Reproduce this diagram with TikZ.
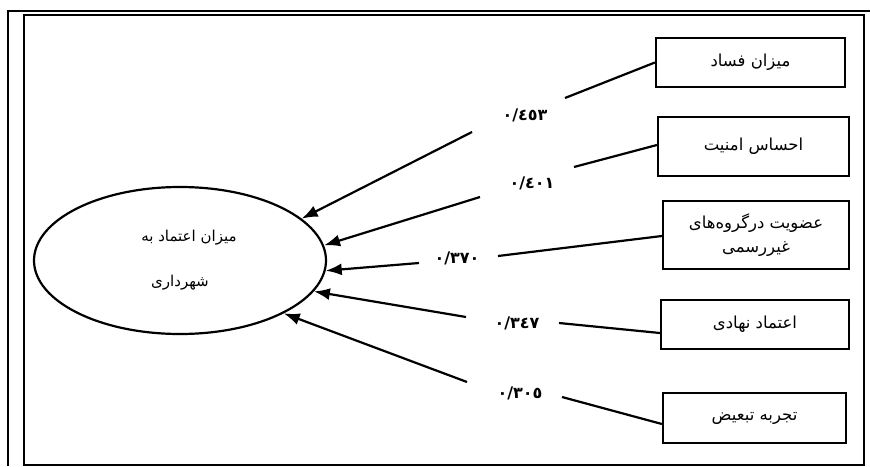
\documentclass[tikz,border=0pt]{standalone}
\usepackage{fontspec}
\TeXXeTstate=1
\newfontfamily\arabicfont[Script=Arabic]{DejaVu Sans}
\usetikzlibrary{arrows.meta,shapes.geometric}
\tikzset{
  factorbox/.style={draw,line width=2.2pt,inner sep=0pt,font=\arabicfont\fontsize{16.5}{24}\selectfont,align=center},
  outcome/.style={draw,ellipse,line width=2.2pt,inner sep=0pt,minimum width=292pt,minimum height=147pt,font=\arabicfont\fontsize{15}{45}\selectfont,align=center},
  coef/.style={font=\arabicfont\bfseries\fontsize{16}{18}\selectfont,inner sep=0pt},
  link/.style={line width=2.2pt},
  arrowlink/.style={line width=2.2pt,-{Latex[length=16pt,width=12pt]}},
  frameline/.style={line width=2.4pt}
}
\begin{document}
\begin{tikzpicture}[x=1pt,y=-1pt]
\useasboundingbox (0,0) rectangle (870,466);
% frame
\draw[frameline] (8,466) -- (8,11) -- (870,11);
\draw[line width=2pt] (24,465) rectangle (864,15);
% outcome
\node[outcome] (ell) at (180,260.5) {\beginR میزان اعتماد به\endR\hspace*{-18pt}\\ \beginR شهرداری\endR};
% factors
\node[factorbox,minimum width=189pt,minimum height=49pt] (f1) at (750.5,62.5) {\beginR میزان فساد\endR};
\node[factorbox,minimum width=191pt,minimum height=59pt] (f2) at (753.5,146.5) {\beginR احساس امنیت\endR};
\node[factorbox,minimum width=186pt,minimum height=68pt] (f3) at (756,235) {\beginR عضویت درگروه‌های\endR\\ \beginR غیررسمی\endR};
\node[factorbox,minimum width=188pt,minimum height=49pt] (f4) at (755,324.5) {\beginR اعتماد نهادی\endR};
\node[factorbox,minimum width=183pt,minimum height=50pt] (f5) at (754.5,418) {\beginR تجربه تبعیض\endR};
% coefficient labels
\node[coef] (k1) at (525,115) {٠/٤٥٣};
\node[coef] (k2) at (532,183) {٠/٤٠١};
\node[coef] (k3) at (457,258) {٠/٣٧٠};
\node[coef] (k4) at (517,323) {٠/٣٤٧};
\node[coef] (k5) at (520,393) {٠/٣٠٥};
% break points of connectors
\coordinate (a1) at (565,98);  \coordinate (b1) at (472,132);
\coordinate (a2) at (574,167); \coordinate (b2) at (480,197);
\coordinate (a3) at (498,256); \coordinate (b3) at (419,263);
\coordinate (a4) at (559,323); \coordinate (b4) at (466,317);
\coordinate (a5) at (562,397); \coordinate (b5) at (467,382);
% connectors
\draw[link] (f1.west) -- (a1);
\draw[arrowlink] (b1) -- (ell.19);
\draw[link] ([yshift=1.5pt]f2.west) -- (a2);
\draw[arrowlink] (b2) -- (ell.6);
\draw[link] ([yshift=-1pt]f3.west) -- (a3);
\draw[arrowlink] (b3) -- (ell.-4);
\draw[link] ([yshift=-8.5pt]f4.west) -- (a4);
\draw[arrowlink] (b4) -- (ell.-13);
\draw[link] ([yshift=-6pt]f5.west) -- (a5);
\draw[arrowlink] (b5) -- (ell.-27);
\end{tikzpicture}
\end{document}
